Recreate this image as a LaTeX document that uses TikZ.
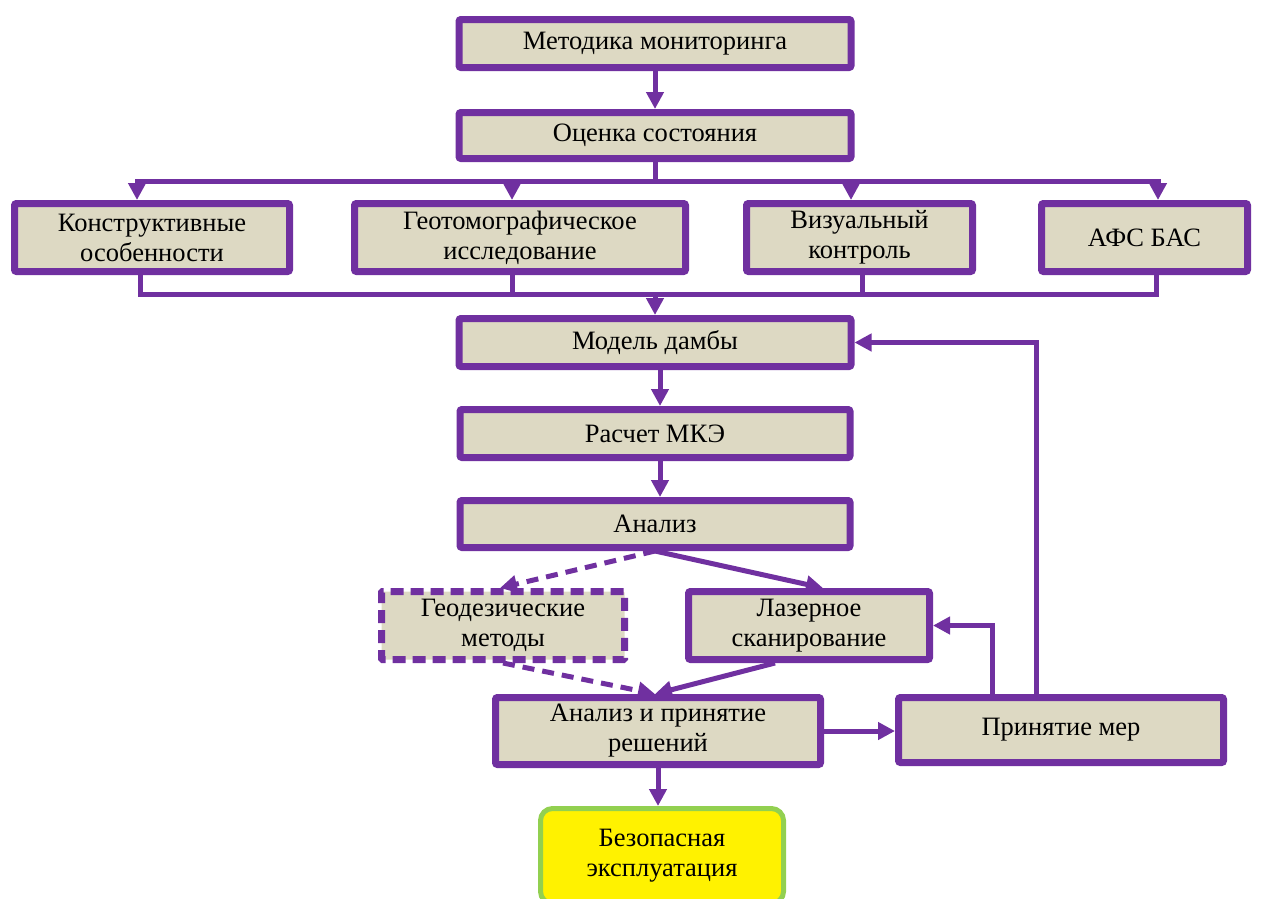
\documentclass[tikz,border=0pt]{standalone}
\usepackage{fontspec}
\setmainfont{Liberation Serif}
\usepackage{tikz}
\usetikzlibrary{arrows.meta,positioning,calc}
\definecolor{purp}{HTML}{7030A0}
\definecolor{beige}{HTML}{DDD9C3}
\definecolor{lgreen}{HTML}{92D050}

\begin{document}
\begin{tikzpicture}[x=1pt, y=-1pt,
        box/.style={rectangle, draw=purp, fill=beige, line width=7pt, rounded corners=2pt, align=center, font=\fontsize{26.5}{30}\selectfont},
        dbox/.style={box, dash pattern=on 13pt off 7pt, rounded corners=1pt},
        goal/.style={rectangle, draw=lgreen, fill=yellow, line width=5pt, rounded corners=12pt, align=center, font=\fontsize{26.5}{30}\selectfont},
        line/.style={draw=purp, line width=5pt},
        arr/.style={line, -{Triangle[length=17pt,width=17pt]}},
        darr/.style={arr, dash pattern=on 12pt off 8pt}]

    \useasboundingbox (0,0) rectangle (1261,898);

    % upper part
    \node[box, minimum width=392pt, minimum height=48pt] (metod) at (655,43.5) {Методика мониторинга};
    \node[box, minimum width=392pt, minimum height=46pt] (ocenka) at (655,135.5) {Оценка состояния};
    \node[box, minimum width=275pt, minimum height=68pt] (konstr) at (152,237.5) {Конструктивные\\особенности};
    \node[box, minimum width=331pt, minimum height=68pt] (geotom) at (520,237.5) {Геотомографическое\\исследование};
    \node[box, minimum width=226pt, minimum height=68pt] (vizual) at (859.5,237.5) {Визуальный\\контроль};
    \node[box, minimum width=206pt, minimum height=68pt] (afs) at (1144.5,237.5) {АФС БАС};

    % middle part
    \node[box, minimum width=392pt, minimum height=48pt] (model) at (655,342.5) {Модель дамбы};
    \node[box, minimum width=390pt, minimum height=48pt] (raschet) at (655,433.5) {Расчет МКЭ};
    \node[box, minimum width=390pt, minimum height=47pt] (analiz) at (655,524) {Анализ};
    \node[dbox, minimum width=243pt, minimum height=68pt] (geodez) at (503,625.5) {Геодезические\\методы};
    \node[box, minimum width=241pt, minimum height=68pt] (lazer) at (809,625.5) {Лазерное\\сканирование};

    % lower part
    \node[box, minimum width=325pt, minimum height=67pt] (reshenie) at (658,731) {Анализ и принятие\\решений};
    \node[box, minimum width=325pt, minimum height=65pt] (mery) at (1061,730) {Принятие мер};
    \node[goal, minimum width=243pt, minimum height=95pt] (bezop) at (662,856) {Безопасная\\эксплуатация};

    % connectors
    \draw[arr] (metod) -- (ocenka);
    \coordinate (topbus) at (655,181);
    \draw[line] (ocenka.south) -- (topbus);
    \draw[arr] (topbus) -| ($(konstr.north)+(-15,0)$);
    \draw[arr] (topbus) -| ($(geotom.north)+(-8,0)$);
    \draw[arr] (topbus) -| ($(vizual.north)+(-8.5,0)$);
    \draw[arr] (topbus) -| ($(afs.north)+(13.5,0)$);

    \coordinate (botbus) at (655,294);
    \draw[line] ($(konstr.south)+(-12,0)$) |- (botbus);
    \draw[line] ($(geotom.south)+(-8,0)$) |- (botbus);
    \draw[line] ($(vizual.south)+(2.5,0)$) |- (botbus);
    \draw[line] ($(afs.south)+(11.5,0)$) |- (botbus);
    \draw[arr] (botbus) -- (model.north);

    \draw[arr] ($(model.south)+(5,0)$) -- ($(raschet.north)+(5,0)$);
    \draw[arr] ($(raschet.south)+(5,0)$) -- ($(analiz.north)+(5,0)$);
    \draw[darr] (analiz.south) -- ($(geodez.north)+(-3,0)$);
    \draw[arr] (analiz.south) -- ($(lazer.north)+(14,0)$);
    \draw[darr] (geodez.south) -- ($(reshenie.north)+(-3,0)$);
    \draw[arr] ($(lazer.south)+(-34,0)$) -- ($(reshenie.north)+(-3,0)$);

    \draw[arr] (reshenie.east) -- (mery.west |- reshenie.east);
    \draw[arr] ($(mery.north)+(-69,0)$) |- (lazer.east);
    \draw[arr] ($(mery.north)+(-25,0)$) |- (model.east);
    \draw[arr] (reshenie.south) -- (reshenie.south |- bezop.north);

\end{tikzpicture}
\end{document}
